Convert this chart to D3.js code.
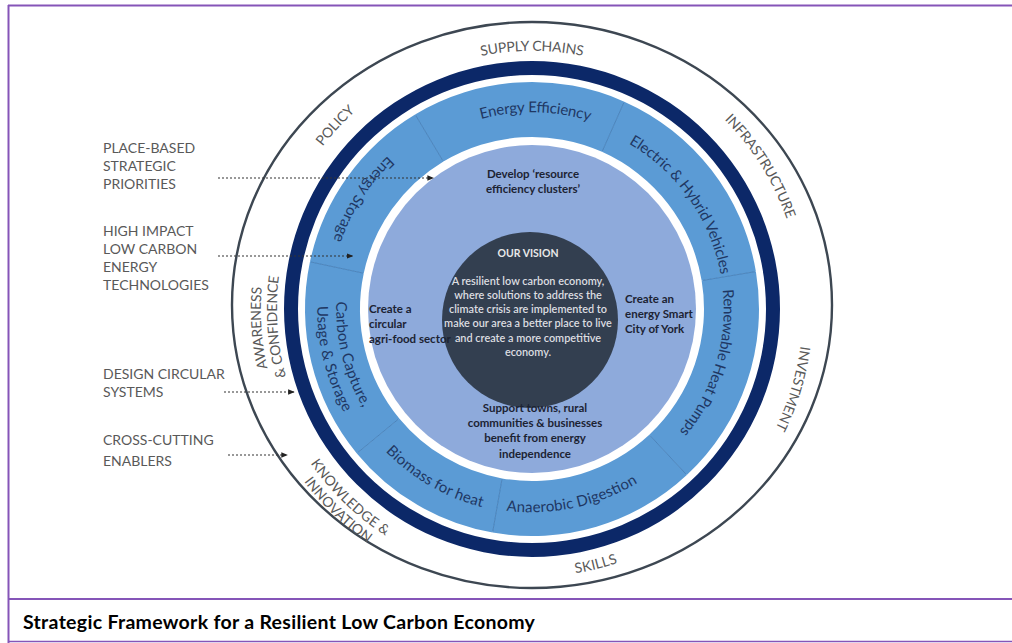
<!DOCTYPE html>
<html>
<head>
<meta charset="utf-8">
<script src="https://cdn.jsdelivr.net/npm/d3@7"></script>
<style>
  body { margin: 0; background: #fff; }
  svg { display: block; font-family: Lato, "Open Sans", sans-serif; }
</style>
</head>
<body>
<script>
// ---- chart content ----
const bandLabels = [
  ["Energy Efficiency"],
  ["Electric & Hybrid Vehicles"],
  ["Renewable Heat Pumps"],
  ["Anaerobic Digestion"],
  ["Biomass for heat"],
  ["Carbon Capture,", "Usage & Storage"],
  ["Energy Storage"]
];
// segment boundaries, degrees clockwise from 12 o'clock
const bandBounds = [-31, 24, 80.5, 137, 190, 230.5, 282, 329];
const bandTextAngles = [1, 55, 107, 168, 210, 256, 303];

const ringLabels = [
  ["SUPPLY CHAINS"],
  ["INFRASTRUCTURE"],
  ["INVESTMENT"],
  ["SKILLS"],
  ["KNOWLEDGE &", "INNOVATION"],
  ["AWARENESS", "& CONFIDENCE"],
  ["POLICY"]
];
const ringAngles = [0, 58, 107, 166, 224, 266, -47];

const sideLabels = [
  ["PLACE-BASED", "STRATEGIC", "PRIORITIES"],
  ["HIGH IMPACT", "LOW CARBON", "ENERGY", "TECHNOLOGIES"],
  ["DESIGN CIRCULAR", "SYSTEMS"],
  ["CROSS-CUTTING", "ENABLERS"]
];

const innerTop = ["Develop \u2018resource", "efficiency clusters\u2019"];
const innerLeft = ["Create a", "circular", "agri-food sector"];
const innerRight = ["Create an", "energy Smart", "City of York"];
const innerBottom = ["Support  towns, rural", "communities & businesses", "benefit from energy", "independence"];

const visionTitle = "OUR VISION";
const visionLines = [
  "A resilient low carbon economy,",
  "where solutions to address the",
  "climate crisis are implemented to",
  "make our area a better place to live",
  "and create a more competitive",
  "economy."
];

const caption = "Strategic Framework for a Resilient Low Carbon Economy";

// ---- layout ----
const W = 1012, H = 643;
const cx = 532, cy = 309;
const rLav = 164, rBandIn = 172, rBandOut = 227, rNavyIn = 234, rNavyOut = 248;
const bandTextR = [202, 197, 197, 198, 199, 200, 205];
const bandSweep = ["cw", "cw", "cw", "ccw", "ccw", "ccw", "ccw"];
const ringTextR = [263, 275, 276, 263, 273, 268, 270];
const ringSweep = ["cw", "cw", "cw", "ccw", "ccw", "cw", "cw"];
const sideY = [148.5, 231, 374, 440];
const sideGap = [18, 18, 18, 21];
const arrowStartX = [218, 218, 224, 228];
const arrowY = [178, 256, 392, 455];
const arrowTargetR = [rLav, 187, 252, 285];

const deg = d3.scaleLinear().domain([0, 360]).range([0, 2 * Math.PI]);

const svg = d3.select("body").append("svg")
  .attr("width", W).attr("height", H);
const defs = svg.append("defs");

defs.append("marker")
  .attr("id", "arrow")
  .attr("viewBox", "0 0 10 10")
  .attr("refX", 9).attr("refY", 5)
  .attr("markerWidth", 6).attr("markerHeight", 6)
  .attr("orient", "auto")
  .append("path").attr("d", "M0,1 L10,5 L0,9 Z").attr("fill", "#222");

// frame
const purple = "#8555b8";
svg.append("line").attr("x1", 8).attr("x2", W).attr("y1", 5.5).attr("y2", 5.5)
  .attr("stroke", purple).attr("stroke-width", 2.2);
svg.append("line").attr("x1", 8.5).attr("x2", 8.5).attr("y1", 5).attr("y2", H)
  .attr("stroke", purple).attr("stroke-width", 2);
svg.append("line").attr("x1", 8).attr("x2", W).attr("y1", 599).attr("y2", 599)
  .attr("stroke", purple).attr("stroke-width", 2);
svg.append("line").attr("x1", 8).attr("x2", W).attr("y1", 641.5).attr("y2", 641.5)
  .attr("stroke", purple).attr("stroke-width", 1.6);

// outer thin ring
svg.append("ellipse")
  .attr("cx", cx).attr("cy", 305).attr("rx", 300).attr("ry", 283)
  .attr("fill", "none").attr("stroke", "#3d4752").attr("stroke-width", 2.4);

const g = svg.append("g").attr("transform", `translate(${cx},${cy})`);

// navy ring
g.append("path")
  .attr("d", d3.arc().innerRadius(rNavyIn).outerRadius(rNavyOut)({ startAngle: 0, endAngle: 2 * Math.PI }))
  .attr("fill", "#0c2868");

// band segments
const segs = bandLabels.map((l, i) => ({
  label: l, startAngle: deg(bandBounds[i]), endAngle: deg(bandBounds[i + 1])
}));
const bandArc = d3.arc().innerRadius(rBandIn).outerRadius(rBandOut);
g.selectAll(".seg").data(segs).enter().append("path")
  .attr("class", "seg")
  .attr("d", bandArc)
  .attr("fill", "#5b9bd5");

g.selectAll(".div").data(bandBounds.slice(0, 7)).enter().append("line")
  .attr("class", "div")
  .attr("x1", d => (rBandIn + 1) * Math.sin(deg(d)))
  .attr("y1", d => -(rBandIn + 1) * Math.cos(deg(d)))
  .attr("x2", d => (rBandOut - 1) * Math.sin(deg(d)))
  .attr("y2", d => -(rBandOut - 1) * Math.cos(deg(d)))
  .attr("stroke", "#3f78b3").attr("stroke-width", 0.8);

// lavender disk
g.append("circle").attr("r", rLav).attr("fill", "#8eaadb");

// text along arcs
let pid = 0;
function arcText(lines, angle, rMid, sweep, lh, size, color) {
  const n = lines.length;
  lines.forEach((t, k) => {
    const off = ((n - 1) / 2 - k) * lh;
    const r = sweep === "cw" ? rMid + off : rMid - off;
    const a0 = deg(angle - 80) - Math.PI / 2, a1 = deg(angle + 80) - Math.PI / 2;
    const p = d3.path();
    if (sweep === "cw") p.arc(0, 0, r, a0, a1, false);
    else p.arc(0, 0, r, a1, a0, true);
    const id = "tp" + (pid++);
    defs.append("path").attr("id", id).attr("d", p.toString())
      .attr("transform", `translate(${cx},${cy})`);
    svg.append("text")
      .attr("font-size", size).attr("fill", color).attr("dy", "0.35em")
      .append("textPath")
      .attr("href", "#" + id)
      .attr("startOffset", "50%")
      .attr("text-anchor", "middle")
      .text(t);
  });
}

bandLabels.forEach((l, i) => arcText(l, bandTextAngles[i], bandTextR[i], bandSweep[i], 19, 15, "#1f3763"));
ringLabels.forEach((l, i) => arcText(l, ringAngles[i], ringTextR[i], ringSweep[i], 16, 14, "#595959"));

// dark vision circle
svg.append("circle").attr("cx", 530).attr("cy", 320).attr("r", 88).attr("fill", "#333f50");
svg.append("text").attr("x", 528).attr("y", 253).attr("dy", "0.35em")
  .attr("text-anchor", "middle").attr("font-size", 10.5).attr("font-weight", 700)
  .attr("fill", "#e8e8e8").text(visionTitle);
svg.append("g").selectAll("text").data(visionLines).enter().append("text")
  .attr("x", 528).attr("y", (d, i) => 281 + i * 14.2).attr("dy", "0.35em")
  .attr("text-anchor", "middle").attr("font-size", 10.9).attr("font-weight", 600)
  .attr("fill", "#dcdde0").text(d => d);

// lavender texts
function block(lines, x, y0, anchor) {
  svg.append("g").selectAll("text").data(lines).enter().append("text")
    .attr("x", x).attr("y", (d, i) => y0 + i * 15.2).attr("dy", "0.35em")
    .attr("text-anchor", anchor).attr("font-size", 11.5).attr("font-weight", 700)
    .attr("fill", "#1c2333").text(d => d);
}
block(innerTop, 533, 174, "middle");
block(innerLeft, 369, 309, "start");
block(innerRight, 625, 299, "start");
block(innerBottom, 535, 408, "middle");

// side labels
sideLabels.forEach((lines, i) => {
  svg.append("g").selectAll("text").data(lines).enter().append("text")
    .attr("x", 103).attr("y", (d, k) => sideY[i] + k * sideGap[i]).attr("dy", "0.35em")
    .attr("font-size", 14).attr("fill", "#595959").text(d => d);
});

// dotted arrows into the rings
arrowY.forEach((y, i) => {
  const dy = y - cy;
  const xEnd = cx - Math.sqrt(arrowTargetR[i] ** 2 - dy * dy);
  svg.append("line")
    .attr("x1", arrowStartX[i]).attr("y1", y).attr("x2", xEnd).attr("y2", y)
    .attr("stroke", "#333").attr("stroke-width", 1.1)
    .attr("stroke-dasharray", "2,2")
    .attr("marker-end", "url(#arrow)");
});

// caption
svg.append("text").attr("x", 23).attr("y", 628.5)
  .attr("font-size", 19.5).attr("font-weight", 700).attr("fill", "#000")
  .attr("letter-spacing", 0.3)
  .text(caption);
</script>
</body>
</html>
